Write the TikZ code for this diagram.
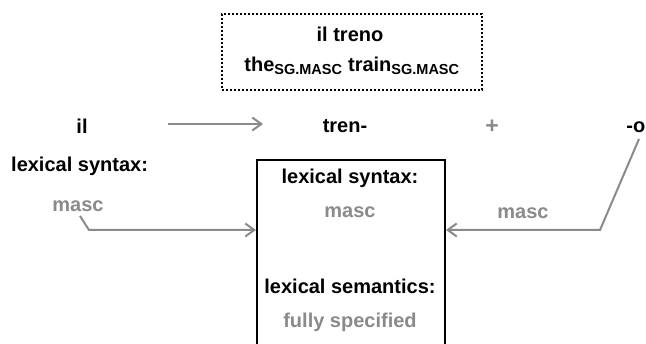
\documentclass[tikz,border=0pt]{standalone}
\usepackage{fontspec}
\setmainfont{Liberation Sans}
\usetikzlibrary{arrows.meta}
\definecolor{lgray}{HTML}{8A8A8A}
\tikzset{
  lbl/.style={font=\fontsize{20}{23}\selectfont\bfseries, inner sep=0pt, text=black},
  glbl/.style={lbl, text=lgray},
  garrow/.style={draw=lgray, line width=2pt, -{Straight Barb[length=9pt,width=13pt,line width=2pt]}}
}
\newcommand{\sbx}[1]{\textsubscript{\fontsize{14.5}{14.5}\selectfont\bfseries #1}}
\begin{document}
\begin{tikzpicture}[x=1pt,y=-1pt]
\useasboundingbox (0,0) rectangle (646,344);
% top dotted box
\node[draw, line width=2pt, dash pattern=on 2pt off 2pt, minimum width=260pt, minimum height=76pt, inner sep=0pt] (top) at (352,52) {};
\node[lbl] (iltreno) at (350,34) {il treno};
\node[lbl] (gloss) at (352,66) {the\sbx{SG.MASC} train\sbx{SG.MASC}};
% row
\node[lbl] (il) at (82,126) {il};
\coordinate (a1) at (168,124);
\coordinate (a2) at (263,124);
\draw[garrow] (a1) -- (a2);
\node[lbl] (tren) at (345,126) {tren-};
\node[glbl, font=\fontsize{23}{23}\selectfont\bfseries] (plus) at (492,127) {+};
\node[lbl, anchor=east] (o) at (645.5,127) {-o};
% left
\node[lbl, anchor=west] (lsl) at (11,166) {lexical syntax:};
\node[glbl] (mascl) at (78,206) {masc};
% main box
\node[draw, line width=2pt, minimum width=188pt, minimum height=220pt, inner sep=0pt, anchor=north] (box) at (351,159) {};
\node[lbl] (ls) at (350,178) {lexical syntax:};
\node[glbl] (mascb) at (350,212) {masc};
\node[lbl] (lsem) at (350,286) {lexical semantics:};
\node[glbl] (fs) at (350,322) {fully specified};
% right masc
\node[glbl] (mascr) at (523,213) {masc};
% arrows
\coordinate (ls0) at (80,216);
\coordinate (lk) at (89,230);
\draw[garrow] (ls0) -- (lk) -- (box.west |- lk);
\coordinate (rk) at (600,230);
\coordinate (rs) at (639,139);
\draw[garrow] (rs) -- (rk) -- (box.east |- rk);
\end{tikzpicture}
\end{document}
